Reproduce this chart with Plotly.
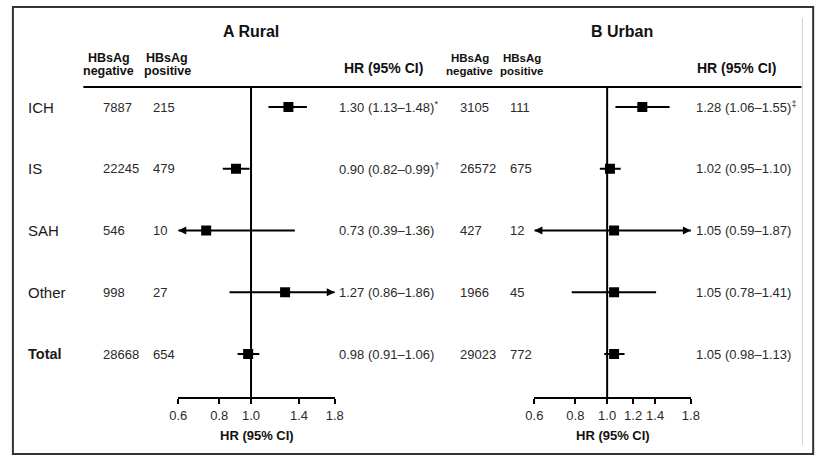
import math
import plotly.graph_objects as go

# ---------------- data ----------------
categories = ["ICH", "IS", "SAH", "Other", "Total"]

rural_neg = [7887, 22245, 546, 998, 28668]
rural_pos = [215, 479, 10, 27, 654]
rural_hr = [1.30, 0.90, 0.73, 1.27, 0.98]
rural_lo = [1.13, 0.82, 0.39, 0.86, 0.91]
rural_hi = [1.48, 0.99, 1.36, 1.86, 1.06]
rural_sig = ["*", "†", "", "", ""]
rural_ticks = [0.6, 0.8, 1.0, 1.4, 1.8]

urban_neg = [3105, 26572, 427, 1966, 29023]
urban_pos = [111, 675, 12, 45, 772]
urban_hr = [1.28, 1.02, 1.05, 1.05, 1.05]
urban_lo = [1.06, 0.95, 0.59, 0.78, 0.98]
urban_hi = [1.55, 1.10, 1.87, 1.41, 1.13]
urban_sig = ["‡", "", "", "", ""]
urban_ticks = [0.6, 0.8, 1.0, 1.2, 1.4, 1.8]

# ---------------- layout helpers ----------------
W, H = 830, 463
FONT = "Liberation Sans, Arial, sans-serif"
TXT = "#2a2a2a"
HEAD = "#111111"


def px(x):
    return x / W


def py(y):
    return 1 - y / H


X_MIN, X_MAX = 0.6, 1.8
Y_TOP, Y_BOT = -0.324, 4.696
rows = list(range(len(categories)))

fig = go.Figure()
annotations = []


def note(text, x, y, xref="paper", yref="paper", xanchor="center", size=13, color=TXT):
    annotations.append(dict(text=text, x=x, y=y, xref=xref, yref=yref, xanchor=xanchor,
                            yanchor="middle", showarrow=False, borderpad=0,
                            font=dict(size=size, color=color, family=FONT)))


panels = [
    dict(title="A Rural", xa="x", ya="y", neg=rural_neg, pos=rural_pos, hr=rural_hr,
         lo=rural_lo, hi=rural_hi, sig=rural_sig, ticks=rural_ticks, dom=(173, 333),
         neg_x=95.5, pos_x=146, hr_x=336, title_x=247, head_neg=102, head_pos=162,
         head_hr=383, head_size=12.5),
    dict(title="B Urban", xa="x2", ya="y2", neg=urban_neg, pos=urban_pos, hr=urban_hr,
         lo=urban_lo, hi=urban_hi, sig=urban_sig, ticks=urban_ticks, dom=(537, 697),
         neg_x=460, pos_x=511, hr_x=701, title_x=627, head_neg=471, head_pos=524,
         head_hr=744, head_size=11.5),
]

for p in panels:
    xa, ya = p["xa"], p["ya"]
    # reference line at HR = 1
    fig.add_trace(go.Scatter(x=[1, 1], y=[Y_TOP, Y_BOT], mode="lines",
                             line=dict(color="black", width=2), xaxis=xa, yaxis=ya,
                             hoverinfo="skip", showlegend=False, cliponaxis=False))
    # CI lines (clipped to axis range)
    xs, ys = [], []
    for r, lo, hi in zip(rows, p["lo"], p["hi"]):
        xs += [max(lo, X_MIN), min(hi, X_MAX), None]
        ys += [r, r, None]
    fig.add_trace(go.Scatter(x=xs, y=ys, mode="lines", line=dict(color="black", width=1.8),
                             xaxis=xa, yaxis=ya, hoverinfo="skip", showlegend=False,
                             cliponaxis=False))
    # arrows for clipped CIs
    la = [(X_MIN, r) for r, lo in zip(rows, p["lo"]) if lo < X_MIN]
    ra = [(X_MAX, r) for r, hi in zip(rows, p["hi"]) if hi > X_MAX]
    if la:
        fig.add_trace(go.Scatter(x=[a[0] for a in la], y=[a[1] for a in la], mode="markers",
                                 marker=dict(symbol="arrow-left", size=8, color="black"),
                                 xaxis=xa, yaxis=ya, showlegend=False, cliponaxis=False))
    if ra:
        fig.add_trace(go.Scatter(x=[a[0] for a in ra], y=[a[1] for a in ra], mode="markers",
                                 marker=dict(symbol="arrow-right", size=8, color="black"),
                                 xaxis=xa, yaxis=ya, showlegend=False, cliponaxis=False))
    # point estimates
    fig.add_trace(go.Scatter(x=p["hr"], y=rows, mode="markers",
                             marker=dict(symbol="square", size=10, color="black"),
                             xaxis=xa, yaxis=ya, showlegend=False, cliponaxis=False))

    # titles / headers
    note(f"<b>{p['title']}</b>", px(p["title_x"]), py(31), size=16, color=HEAD)
    for hx, word in [(p["head_neg"], "negative"), (p["head_pos"], "positive")]:
        note("<b>HBsAg</b>", px(hx), py(57.5), size=p["head_size"], color=HEAD)
        note(f"<b>{word}</b>", px(hx), py(71), size=p["head_size"], color=HEAD)
    note("<b>HR (95% CI)</b>", px(p["head_hr"]), py(68), size=14, color=HEAD)
    # bottom axis title
    note("<b>HR (95% CI)</b>", 0.5, py(435), xref=f"{xa} domain", size=13, color=HEAD)
    # row texts
    for r, n, q, h, lo, hi, s in zip(rows, p["neg"], p["pos"], p["hr"], p["lo"], p["hi"], p["sig"]):
        note(str(n), px(p["neg_x"]), r, yref=ya, xanchor="left")
        note(str(q), px(p["pos_x"]), r, yref=ya, xanchor="left")
        sup = f"<sup>{s}</sup>" if s else ""
        note(f"{h:.2f} ({lo:.2f}–{hi:.2f}){sup}", px(p["hr_x"]), r, yref=ya, xanchor="left")

# row labels
for r, c in zip(rows, categories):
    label = f"<b>{c}</b>" if c == "Total" else c
    note(label, px(18), r, yref="y", xanchor="left", size=15 if c != "Total" else 14.5,
         color="#1a1a1a")


def xaxis_cfg(p, anchor):
    return dict(type="log", range=[math.log10(X_MIN), math.log10(X_MAX)],
                domain=[px(p["dom"][0]), px(p["dom"][1])], anchor=anchor,
                tickvals=p["ticks"], ticktext=[f"{t:.1f}" for t in p["ticks"]],
                showline=True, linecolor="black", linewidth=1.8, ticks="outside",
                ticklen=5, tickwidth=1.8, tickcolor="black", showgrid=False,
                zeroline=False, tickfont=dict(size=13, color=TXT, family=FONT),
                fixedrange=True)


def yaxis_cfg(anchor):
    return dict(range=[Y_BOT, Y_TOP], domain=[py(397), py(87)], visible=False,
                anchor=anchor, fixedrange=True)


shapes = [
    # outer frame
    dict(type="rect", xref="paper", yref="paper", x0=px(4), x1=px(822), y0=py(454), y1=py(7),
         line=dict(color="#333", width=2)),
    # faint inner right edge
    dict(type="line", xref="paper", yref="paper", x0=px(811), x1=px(811), y0=py(445), y1=py(18),
         line=dict(color="#cfcfcf", width=1)),
    # header rule
    dict(type="line", xref="paper", yref="paper", x0=px(76), x1=px(810), y0=py(87), y1=py(87),
         line=dict(color="black", width=2)),
]

fig.update_layout(
    width=W, height=H, margin=dict(l=0, r=0, t=0, b=0),
    paper_bgcolor="white", plot_bgcolor="white",
    xaxis=xaxis_cfg(panels[0], "y"), xaxis2=xaxis_cfg(panels[1], "y2"),
    yaxis=yaxis_cfg("x"), yaxis2=yaxis_cfg("x2"),
    annotations=annotations, shapes=shapes, showlegend=False,
    font=dict(family=FONT, color=TXT),
)

fig.write_html("out.html")
